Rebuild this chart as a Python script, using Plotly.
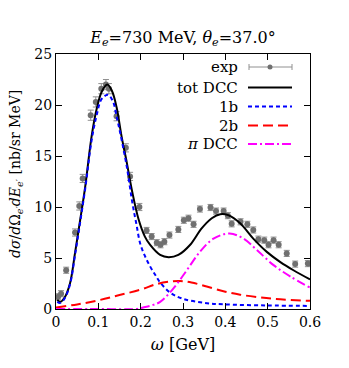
import plotly.graph_objects as go

# experimental data
exp_w = [0.005, 0.012, 0.024, 0.045, 0.055, 0.063, 0.082, 0.094, 0.107, 0.118, 0.125, 0.143,
         0.165, 0.175, 0.197, 0.214, 0.226, 0.238, 0.247, 0.256, 0.268, 0.289, 0.302, 0.313,
         0.325, 0.340, 0.365, 0.378, 0.396, 0.406, 0.415, 0.436, 0.452, 0.466, 0.478, 0.492,
         0.502, 0.514, 0.526, 0.545, 0.565, 0.595]
exp_y = [1.2, 1.5, 3.8, 7.5, 10.1, 12.8, 19.0, 20.3, 21.6, 22.0, 21.6, 18.9,
         15.8, 13.0, 10.0, 7.7, 7.1, 6.5, 6.3, 6.6, 7.25, 7.8, 8.7, 8.9,
         8.3, 9.8, 9.95, 9.6, 9.6, 9.15, 8.35, 8.55, 8.3, 7.75, 6.85, 6.75,
         6.3, 6.75, 6.3, 5.45, 4.4, 4.45]
exp_err = [0.3, 0.3, 0.3, 0.35, 0.4, 0.4, 0.5, 0.5, 0.5, 0.5, 0.5, 0.45,
           0.4, 0.4, 0.35, 0.3, 0.3, 0.3, 0.3, 0.3, 0.3, 0.3, 0.3, 0.3,
           0.3, 0.3, 0.3, 0.3, 0.3, 0.3, 0.3, 0.3, 0.3, 0.3, 0.3, 0.3,
           0.3, 0.3, 0.3, 0.3, 0.3, 0.3]

# tot DCC
tot_w = [0.003, 0.01, 0.02, 0.033, 0.045, 0.057, 0.069, 0.084, 0.096, 0.108, 0.121, 0.132,
         0.143, 0.155, 0.167, 0.18, 0.195, 0.21, 0.222, 0.246, 0.266, 0.289, 0.317, 0.344,
         0.368, 0.388, 0.407, 0.435, 0.466, 0.498, 0.53, 0.561, 0.6]
tot_y = [0.9, 0.7, 1.1, 2.5, 5.5, 8.7, 12.0, 16.9, 19.6, 21.3, 22.0, 21.4,
         19.8, 16.9, 14.4, 11.5, 8.8, 7.1, 6.3, 5.3, 5.07, 5.3, 6.3, 7.9,
         8.9, 9.3, 9.2, 8.4, 6.9, 5.6, 4.6, 3.8, 2.9]

# 1b
b1_w = [0.003, 0.01, 0.02, 0.033, 0.045, 0.057, 0.069, 0.084, 0.096, 0.108, 0.123, 0.135,
        0.143, 0.151, 0.167, 0.18, 0.19, 0.199, 0.21, 0.222, 0.235, 0.246, 0.27, 0.3,
        0.35, 0.4, 0.5, 0.6]
b1_y = [0.7, 0.6, 1.0, 2.4, 5.3, 8.5, 11.8, 16.5, 19.0, 20.6, 21.0, 20.3,
        18.9, 17.4, 14.0, 10.5, 8.3, 6.4, 5.2, 4.2, 3.3, 2.6, 1.6, 1.0,
        0.6, 0.45, 0.35, 0.3]

# 2b
b2_w = [0.0, 0.05, 0.1, 0.15, 0.2, 0.238, 0.27, 0.293, 0.32, 0.356, 0.4, 0.435, 0.48, 0.514, 0.55, 0.6]
b2_y = [0.15, 0.45, 0.85, 1.37, 1.9, 2.45, 2.7, 2.75, 2.6, 2.2, 1.7, 1.4, 1.15, 1.0, 0.9, 0.8]

# pi DCC
pi_w = [0.0, 0.1, 0.19, 0.206, 0.225, 0.246, 0.277, 0.309, 0.34, 0.372, 0.41, 0.443, 0.474, 0.514, 0.553, 0.6]
pi_y = [0.0, 0.0, 0.0, 0.15, 0.35, 0.7, 2.0, 3.8, 5.6, 6.9, 7.4, 6.9, 5.8, 4.3, 3.2, 2.1]

x_ticks = [0, 0.1, 0.2, 0.3, 0.4, 0.5, 0.6]
y_ticks = [0, 5, 10, 15, 20, 25]

FONT = "DejaVu Serif"
GREY = "#707070"

fig = go.Figure()
fig.add_trace(go.Scatter(x=exp_w, y=exp_y, mode="markers",
                         marker=dict(color=GREY, size=6),
                         error_y=dict(type="data", array=exp_err, color="#909090", thickness=1, width=3),
                         showlegend=False))
fig.add_trace(go.Scatter(x=tot_w, y=tot_y, mode="lines", line=dict(color="black", width=2, shape="spline"),
                         showlegend=False))
fig.add_trace(go.Scatter(x=b1_w, y=b1_y, mode="lines",
                         line=dict(color="#0000ff", width=2, dash="4px,3px", shape="spline"), showlegend=False))
fig.add_trace(go.Scatter(x=b2_w, y=b2_y, mode="lines",
                         line=dict(color="#ff0000", width=2, dash="10px,5px", shape="spline"), showlegend=False))
fig.add_trace(go.Scatter(x=pi_w, y=pi_y, mode="lines",
                         line=dict(color="#ff00ff", width=2, dash="9px,3px,2px,3px", shape="spline"), showlegend=False))

# page offset (body margin) compensation: screen coords -> figure coords
OFF = 8
FW, FH = 349 - OFF, 368 - OFF
L, R, T, B = 56 - OFF, 310 - OFF, 54 - OFF, 309 - OFF
W, H = R - L, B - T
def px(x):
    return (x - OFF - L) / W
def py(y):
    return (B - (y - OFF)) / H

legend_rows = [("exp", 67), ("tot DCC", 87.5), ("1b", 106.5), ("2b", 125.5), ("<i>π</i> DCC", 144)]
styles = [None, ("black", "solid"), ("#0000ff", "4px,3px"), ("#ff0000", "10px,5px"), ("#ff00ff", "9px,3px,2px,3px")]
annotations = []
shapes = []
for (label, yy), st in zip(legend_rows, styles):
    annotations.append(dict(x=px(240), y=py(yy), xref="paper", yref="paper", text=label,
                            xanchor="right", yanchor="middle", showarrow=False,
                            font=dict(family=FONT, size=15, color="black")))
    if st is None:
        shapes.append(dict(type="line", xref="paper", yref="paper", x0=px(249), x1=px(292),
                           y0=py(yy), y1=py(yy), line=dict(color="#909090", width=1)))
        for xx in (249, 292):
            shapes.append(dict(type="line", xref="paper", yref="paper", x0=px(xx), x1=px(xx),
                               y0=py(yy - 3), y1=py(yy + 3), line=dict(color="#909090", width=1)))
        shapes.append(dict(type="circle", xref="paper", yref="paper", x0=px(267.5), x1=px(272.5),
                           y0=py(yy + 2.5), y1=py(yy - 2.5), fillcolor=GREY, line=dict(color=GREY, width=0)))
    else:
        shapes.append(dict(type="line", xref="paper", yref="paper", x0=px(248), x1=px(292),
                           y0=py(yy), y1=py(yy), line=dict(color=st[0], width=2, dash=st[1])))

annotations.append(dict(x=px(16), y=py(174), xref="paper", yref="paper", textangle=-90,
                        text="<i>dσ</i>/<i>d</i>Ω<sub><i>e</i>′</sub><i>dE</i><sub><i>e</i>′</sub> [nb/sr MeV]",
                        showarrow=False, xanchor="center", yanchor="middle",
                        font=dict(family=FONT, size=14, color="black")))

axis_common = dict(showgrid=False, zeroline=False, showline=True, linecolor="black", linewidth=1,
                   mirror="allticks", ticks="inside", ticklen=6, tickcolor="black", tickwidth=1,
                   tickfont=dict(family=FONT, size=14, color="black"))
fig.update_layout(
    width=FW, height=FH,
    margin=dict(l=L, r=FW - R, t=T, b=FH - B, autoexpand=False),
    paper_bgcolor="white", plot_bgcolor="white",
    font=dict(family=FONT, size=14, color="black"),
    showlegend=False,
    title=dict(text="<i>E</i><sub><i>e</i></sub>=730 MeV, <i>θ</i><sub><i>e</i></sub>=37.0°",
               x=0.5, xref="paper", xanchor="center", y=1 - (37 - OFF) / FH, yref="container",
               yanchor="middle", font=dict(family=FONT, size=16, color="black")),
    xaxis=dict(range=[0, 0.6], tickvals=x_ticks, ticktext=[str(v) for v in x_ticks],
               title=dict(text="<i>ω</i> [GeV]", standoff=10, font=dict(family=FONT, size=16, color="black")),
               **axis_common),
    yaxis=dict(range=[0, 25], tickvals=y_ticks, ticktext=[str(v) for v in y_ticks], **axis_common),
    annotations=annotations, shapes=shapes,
)
fig.write_html("out.html")
